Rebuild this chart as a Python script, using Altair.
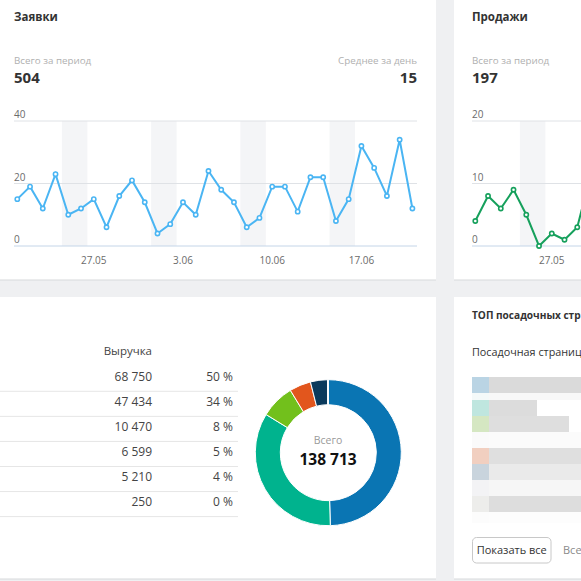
import altair as alt
import pandas as pd

FONT = "Open Sans"
INK = "#333333"
MUTED = "#b0b0b0"
TICK = "#6b6b6b"
GRID = "#dfe2e6"
BASE = "#c4d5e8"
BAND = "#f4f5f7"
PAGE = "#eff0f2"
REQ_COLOR = "#4ab5f3"
SALE_COLOR = "#16a05c"

# ---- daily series, 21.05 - 21.06 ----
days = pd.date_range("2019-05-21", "2019-06-21", freq="D")
requests = [15, 19, 12, 23, 10, 12, 15, 6, 16, 21, 14, 4, 7, 14, 10, 24,
            18, 14, 6, 9, 19, 19, 11, 22, 22, 8, 15, 32, 25, 16, 34, 12]
sales = [4, 8, 6, 9, 5, 0, 2, 1, 3, 11]
sales_total = 197
axis_dates = ["27.05", "3.06", "10.06", "17.06"]
request_ticks = [0, 20, 40]
sales_ticks = [0, 10, 20]

# ---- revenue by channel ----
revenue = [68750, 47434, 10470, 6599, 5210, 250]
slice_colors = ["#0a75b3", "#00b38e", "#72c01c", "#e2561d", "#0b3a5c", "#dedede"]

day_labels = [f"{d.day}.{d.month:02d}" for d in days]
saturdays = [i for i, d in enumerate(days) if d.dayofweek == 5]


def spaced(n):
    return f"{n:,}".replace(",", " ")


def label(text, x, y, size, color=INK, weight="normal", align="left"):
    return alt.Chart(pd.DataFrame({"t": [text]})).mark_text(
        align=align, baseline="alphabetic", font=FONT, fontSize=size,
        fontWeight=weight, color=color
    ).encode(x=alt.value(x), y=alt.value(y), text="t:N")


def trend(values, ticks, x_range, left, right, color):
    xs = alt.Scale(domain=[0, len(days) - 1], range=x_range, nice=False, zero=False)
    ys = alt.Scale(domain=[0, max(ticks)], range=[246, 121], nice=False, zero=False)
    series = pd.DataFrame({"day": range(len(values)), "value": values})
    bands = pd.DataFrame({
        "start": [i - 0.5 for i in saturdays],
        "end": [i + 1.5 for i in saturdays],
        "top": max(ticks), "bottom": 0,
    })
    grid = pd.DataFrame({"tick": ticks})
    # date labels only for days that the series covers
    shown = [s for s in axis_dates if day_labels.index(s) < len(values)]
    dates = pd.DataFrame({"label": shown, "day": [day_labels.index(s) for s in shown]})

    band = alt.Chart(bands).mark_rect(color=BAND, clip=True).encode(
        x=alt.X("start:Q", scale=xs, axis=None), x2="end:Q",
        y=alt.Y("top:Q", scale=ys, axis=None), y2="bottom:Q")
    rules = alt.Chart(grid).mark_rule(strokeWidth=1).encode(
        x=alt.value(left), x2=alt.value(right),
        y=alt.Y("tick:Q", scale=ys, axis=None),
        color=alt.condition(alt.datum.tick == 0, alt.value(BASE), alt.value(GRID)))
    tick_text = alt.Chart(grid).mark_text(
        align="left", baseline="alphabetic", dy=-3, font=FONT, fontSize=10, color=TICK
    ).encode(x=alt.value(left), y=alt.Y("tick:Q", scale=ys, axis=None), text="tick:Q")
    line = alt.Chart(series).mark_line(color=color, strokeWidth=2, clip=True).encode(
        x=alt.X("day:Q", scale=xs, axis=None), y=alt.Y("value:Q", scale=ys, axis=None))
    dots = alt.Chart(series).mark_point(
        shape="circle", filled=True, fill="white", stroke=color, strokeWidth=1.6,
        size=18, opacity=1, clip=True
    ).encode(x=alt.X("day:Q", scale=xs, axis=None), y=alt.Y("value:Q", scale=ys, axis=None))
    date_text = alt.Chart(dates).mark_text(
        align="center", baseline="alphabetic", font=FONT, fontSize=10, color=TICK
    ).encode(x=alt.X("day:Q", scale=xs, axis=None), y=alt.value(264), text="label:N")
    return alt.layer(band, rules, tick_text, line, dots, date_text)


# ---- page cards ----
cards = pd.DataFrame({"x0": [0, 454, 0, 454], "x1": [436, 581, 436, 581],
                      "y0": [0, 0, 297, 297], "y1": [280, 280, 579, 579]})
card_fill = alt.Chart(cards).mark_rect(color="white").encode(
    x=alt.X("x0:Q", scale=None, axis=None), x2="x1:Q",
    y=alt.Y("y0:Q", scale=None, axis=None), y2="y1:Q")
card_edge = alt.Chart(cards).mark_rule(color="#d8d9db", strokeWidth=1.2).encode(
    x=alt.X("x0:Q", scale=None, axis=None), x2="x1:Q",
    y=alt.Y("y1:Q", scale=None, axis=None))
page = alt.layer(card_fill, card_edge)

# ---- requests card ----
req_total = sum(requests)
req_avg = req_total // len(requests)
req_card = alt.layer(
    label("Заявки", 14, 21, 11.5, weight="bold"),
    label("Всего за период", 14, 63.5, 9.8, color=MUTED),
    label(str(req_total), 14, 82.5, 15, weight="bold"),
    label("Среднее за день", 417, 63.5, 9.8, color=MUTED, align="right"),
    label(str(req_avg), 417, 82.5, 15, weight="bold", align="right"),
)
req_chart = trend(requests, request_ticks, [17.3, 412.4], 14, 417, REQ_COLOR)

# ---- sales card ----
sale_card = alt.layer(
    label("Продажи", 472, 21, 11.5, weight="bold"),
    label("Всего за период", 472, 63.5, 9.8, color=MUTED),
    label(str(sales_total), 472, 82.5, 15, weight="bold"),
)
sale_chart = trend(sales, sales_ticks, [475.3, 870.4], 472, 581, SALE_COLOR)

# ---- revenue table ----
rev_total = sum(revenue)
table = pd.DataFrame({
    "row": range(len(revenue)),
    "amount": [spaced(v) for v in revenue],
    "share": [f"{round(v / rev_total * 100)} %" for v in revenue],
    "sep": [i + 0.583 for i in range(len(revenue))],
})
ty = alt.Scale(domain=[0, len(revenue) - 1], range=[376.7, 502], nice=False, zero=False)
header = pd.DataFrame({"row": [-1], "t": ["Выручка"]})
table_layers = alt.layer(
    alt.Chart(table).mark_rule(color="#e6e6e6", strokeWidth=1).encode(
        x=alt.value(0), x2=alt.value(238), y=alt.Y("sep:Q", scale=ty, axis=None)),
    alt.Chart(header).mark_text(align="right", baseline="middle", font=FONT,
                                fontSize=11.5, color="#444444").encode(
        x=alt.value(152), y=alt.Y("row:Q", scale=ty, axis=None), text="t:N"),
    alt.Chart(table).mark_text(align="right", baseline="middle", font=FONT,
                               fontSize=12, color="#444444").encode(
        x=alt.value(152), y=alt.Y("row:Q", scale=ty, axis=None), text="amount:N"),
    alt.Chart(table).mark_text(align="right", baseline="middle", font=FONT,
                               fontSize=12, color="#444444").encode(
        x=alt.value(233), y=alt.Y("row:Q", scale=ty, axis=None), text="share:N"),
)

# ---- revenue donut ----
slices = pd.DataFrame({"rank": [str(i + 1) for i in range(len(revenue))], "revenue": revenue,
                       "order": range(len(revenue))})
donut = alt.Chart(slices).mark_arc(innerRadius=48, outerRadius=73, stroke="white",
                                   strokeWidth=1).encode(
    theta=alt.Theta("revenue:Q", stack=True),
    order=alt.Order("order:Q"),
    color=alt.Color("rank:N", scale=alt.Scale(domain=list(slices["rank"]), range=slice_colors),
                    legend=None),
    x=alt.value(328.3), y=alt.value(452.7))
donut_text = alt.layer(
    label("Всего", 328, 444, 10.5, color="#9a9a9a", align="center"),
    label(spaced(rev_total), 328, 464.5, 15.5, color="#111111", weight="bold", align="center"),
)

# ---- top landing pages card (contents pixelated) ----
blur_rows = [
    (377, 393, "#bad4e4", "#dadada", 581),
    (393, 400, "#f4f9f9", "#f8f8f8", 581),
    (400, 416, "#bfe6df", "#dcdcdc", 537),
    (416, 432, "#d5e7c2", "#dedede", 569),
    (432, 448, "#fafafa", "#fbfbfb", 581),
    (448, 464, "#f1cfc0", "#dfdfdf", 581),
    (464, 480, "#c9d4dd", "#eaeaea", 581),
    (480, 496, "#f3f3f5", "#f6f6f6", 581),
    (496, 512, "#ededeb", "#dddddd", 581),
    (512, 523, "#fcfcfc", "#fdfdfd", 581),
]
cells = []
for top, bottom, lead, rest, end in blur_rows:
    cells.append({"x0": 472, "x1": 489, "y0": top, "y1": bottom, "fill": lead})
    cells.append({"x0": 489, "x1": end, "y0": top, "y1": bottom, "fill": rest})
cells = pd.DataFrame(cells)
blur = alt.Chart(cells).mark_rect().encode(
    x=alt.X("x0:Q", scale=None, axis=None), x2="x1:Q",
    y=alt.Y("y0:Q", scale=None, axis=None), y2="y1:Q",
    color=alt.Color("fill:N", scale=None))
button = alt.Chart(pd.DataFrame({"t": ["Показать все"]})).mark_rect(
    fill="white", stroke="#c8c8c8", strokeWidth=1, cornerRadius=4
).encode(x=alt.value(472.5), x2=alt.value(551), y=alt.value(537.5), y2=alt.value(563))
top_card = alt.layer(
    label("ТОП посадочных стр", 472, 319, 10.1, weight="bold"),
    label("Посадочная страниц", 472, 356, 10.8),
    blur,
    button,
    label("Показать все", 511.7, 554, 11, align="center"),
    label("Все", 563, 554, 11, color="#8a8a8a"),
)

chart = alt.layer(
    page, req_card, req_chart, sale_card, sale_chart, table_layers, donut, donut_text, top_card
).resolve_scale(
    x="independent", y="independent", theta="independent", color="independent"
).properties(
    width=581, height=581, padding=0,
    autosize=alt.AutoSizeParams(type="none"), background=PAGE
).configure_view(stroke=None)

chart.save("out.html", embed_options={"renderer": "svg", "actions": False})
